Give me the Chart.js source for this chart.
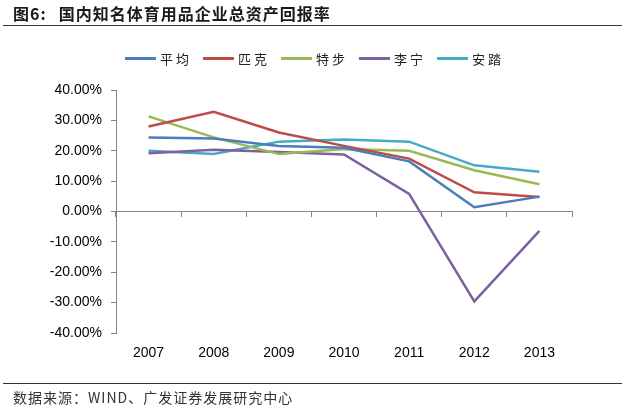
<!DOCTYPE html>
<html lang="zh">
<head>
  <meta charset="utf-8">
  <script src="https://cdn.jsdelivr.net/npm/chart.js"></script>
  <style>
    body {
      margin: 0;
      background: #fff;
      font-family: "Noto Sans CJK SC", sans-serif;
    }

    .wrap {
      position: relative;
      width: 625px;
      height: 411px;
      overflow: hidden;
    }

    #myChart {
      position: absolute;
      left: 0;
      top: 0;
    }

    .title {
      position: absolute;
      left: 13px;
      top: 1px;
      font-size: 16px;
      font-weight: bold;
      letter-spacing: 1px;
      color: #1a1a1a;
      white-space: nowrap;
    }

    .title .lead {
      margin-right: 12px;
    }

    .rule {
      position: absolute;
      left: 3px;
      right: 3px;
      height: 0;
      border-top: 1.5px solid #333;
    }

    #legend {
      position: absolute;
      left: 125px;
      top: 49px;
      display: flex;
      font-size: 13px;
      letter-spacing: 3px;
      color: #222;
    }

    #legend .item {
      display: flex;
      align-items: center;
      width: 78px;
    }

    #legend .swatch {
      width: 31px;
      height: 3px;
      margin-right: 4px;
    }

    .source {
      position: absolute;
      left: 13px;
      top: 387px;
      font-size: 14px;
      letter-spacing: 1px;
      color: #333;
      white-space: nowrap;
    }
  </style>
</head>

<body>
  <div class="wrap">
    <canvas id="myChart" width="625" height="411"></canvas>
    <div class="title"><span class="lead">图6:</span>国内知名体育用品企业总资产回报率</div>
    <div class="rule" style="top: 25px;"></div>
    <div id="legend"></div>
    <div class="rule" style="top: 383px;"></div>
    <div class="source">数据来源：WIND、广发证券发展研究中心</div>
  </div>

  <script>
    // values, percent
    const years = ['2007', '2008', '2009', '2010', '2011', '2012', '2013'];
    const names = ['平均', '匹克', '特步', '李宁', '安踏'];
    const avg = [24.4, 24.0, 21.6, 21.0, 16.5, 1.4, 4.9];
    const peak = [28.0, 32.8, 26.0, 21.6, 17.4, 6.3, 4.8];
    const xtep = [31.3, 24.4, 18.9, 20.6, 20.0, 13.6, 9.0];
    const lining = [19.2, 20.3, 19.6, 18.8, 5.8, -29.6, -6.4];
    const anta = [20.0, 18.9, 23.0, 23.7, 23.0, 15.2, 13.1];
    const yTicks = [-40, -30, -20, -10, 0, 10, 20, 30, 40];

    const COLORS = ['#4a7ebb', '#be4b48', '#98b954', '#7d60a0', '#46aac5'];
    const series = [avg, peak, xtep, lining, anta];

    let datasets = [];
    series.forEach((vals, i) => {
      datasets.push({
        label: names[i],
        data: vals,
        borderColor: COLORS[i],
        backgroundColor: COLORS[i],
        borderWidth: 2.5,
        pointRadius: 0,
        tension: 0,
        fill: false
      });
    });

    const axisGray = '#868686';

    let ctx = document.getElementById('myChart').getContext('2d');
    let chart = new Chart(ctx, {
      type: 'line',
      data: { labels: years, datasets: datasets },
      options: {
        responsive: false,
        animation: false,
        layout: {
          padding: { top: 90, right: 53, bottom: 44, left: 0 }
        },
        scales: {
          x: {
            type: 'category',
            offset: true,
            border: { display: false },
            grid: { display: false, drawTicks: false },
            afterFit: (scale) => {
              scale.height = 34;
            },
            ticks: {
              padding: 12,
              color: '#000',
              font: { family: 'Liberation Sans, Arial', size: 14 },
              maxRotation: 0
            }
          },
          x2: {
            type: 'category',
            labels: years,
            position: { y: 0 },
            offset: true,
            afterFit: (scale) => {
              scale.height = 0;
            },
            border: { color: axisGray, width: 1 },
            grid: {
              offset: true,
              drawOnChartArea: false,
              tickLength: 5,
              color: axisGray
            },
            ticks: { display: false }
          },
          y: {
            min: -40,
            max: 40,
            afterBuildTicks: (scale) => {
              scale.ticks = yTicks.map(v => ({ value: v }));
            },
            afterFit: (scale) => {
              scale.width = 116;
            },
            border: { color: axisGray, width: 1 },
            grid: {
              drawOnChartArea: false,
              tickLength: 5,
              color: axisGray
            },
            ticks: {
              padding: 9,
              color: '#000',
              font: { family: 'Liberation Sans, Arial', size: 14 },
              callback: (v) => v.toFixed(2) + '%'
            }
          }
        },
        plugins: {
          legend: { display: false },
          tooltip: { enabled: false }
        }
      }
    });

    // legend built from the chart's datasets
    const legendEl = document.getElementById('legend');
    chart.data.datasets.forEach((ds) => {
      const item = document.createElement('div');
      item.className = 'item';
      const sw = document.createElement('span');
      sw.className = 'swatch';
      sw.style.background = ds.borderColor;
      const txt = document.createElement('span');
      txt.textContent = ds.label;
      item.appendChild(sw);
      item.appendChild(txt);
      legendEl.appendChild(item);
    });
  </script>
</body>

</html>
